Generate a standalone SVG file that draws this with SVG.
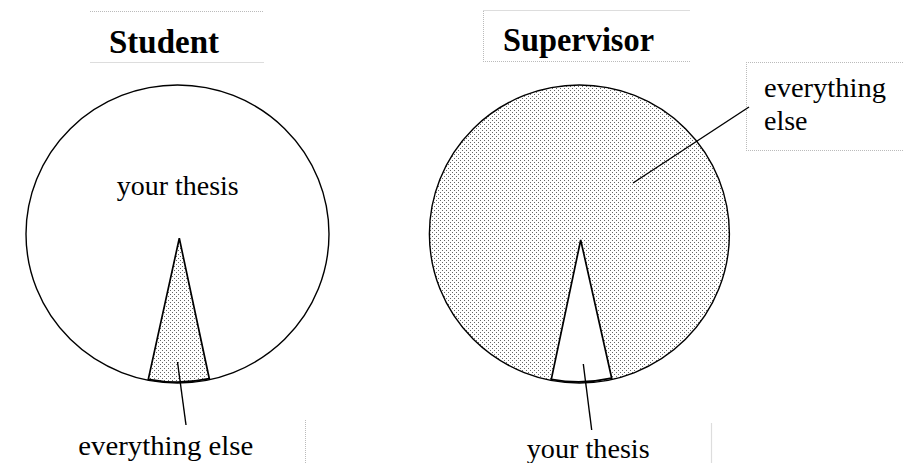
<svg xmlns="http://www.w3.org/2000/svg" width="904" height="463" viewBox="0 0 904 463">
  <style>
    .title { font-family: "Liberation Serif", "Times New Roman", serif; font-weight: bold; font-size: 34px; fill: #000; }
    .lbl { font-family: "Liberation Serif", "Times New Roman", serif; font-size: 28px; fill: #000; }
    .circ { stroke: #000; stroke-width: 1.4; }
    .wedge { stroke: #000; stroke-width: 1.7; stroke-linejoin: miter; }
    .conn { stroke: #000; stroke-width: 1.4; fill: none; }
    .dotted { stroke: #bbb; stroke-width: 1; stroke-dasharray: 1 1; fill: none; }
    .solid { stroke: #ddd; stroke-width: 1.2; fill: none; }
  </style>
  <defs>
    <pattern id="dots" width="4" height="4" patternUnits="userSpaceOnUse">
      <rect width="4" height="4" fill="#fff"/>
      <rect x="0" y="0" width="1" height="1" fill="#666"/>
      <rect x="2" y="2" width="1" height="1" fill="#666"/>
    </pattern>
  </defs>
  <rect width="904" height="463" fill="#fff"/>

  <g id="student-title">
    <line class="dotted" x1="90" y1="11.5" x2="264" y2="11.5"/>
    <line class="solid" x1="90" y1="62.5" x2="264" y2="62.5"/>
    <text class="title" x="109" y="52.5" textLength="110" lengthAdjust="spacingAndGlyphs">Student</text>
  </g>

  <g id="supervisor-title">
    <line class="solid" x1="483" y1="10.5" x2="690" y2="10.5"/>
    <line class="dotted" x1="483.5" y1="11" x2="483.5" y2="62"/>
    <line class="dotted" x1="483" y1="61.5" x2="690" y2="61.5"/>
    <text class="title" x="503" y="50.5" textLength="151" lengthAdjust="spacingAndGlyphs">Supervisor</text>
  </g>

  <g id="student-chart">
    <ellipse class="circ" cx="177.5" cy="234" rx="151.5" ry="149" fill="#fff"/>
    <path class="wedge" fill="url(#dots)" d="M179.3,238.3 L148.3,379.3 A151.5,149 0 0 0 209.3,378.7 Z"/>
    <text class="lbl" x="116.7" y="195" font-size="28" textLength="122" lengthAdjust="spacingAndGlyphs">your thesis</text>
  </g>

  <g id="supervisor-chart">
    <ellipse class="circ" cx="579.4" cy="234" rx="150" ry="149" fill="url(#dots)"/>
    <path class="wedge" fill="#fff" d="M580.7,240 L551.3,379.3 A150,149 0 0 0 611.7,378.2 Z"/>
  </g>

  <g id="label-student-else">
    <line class="dotted" x1="305.5" y1="420" x2="305.5" y2="463"/>
    <text class="lbl" x="78.3" y="455" font-size="29" textLength="175" lengthAdjust="spacingAndGlyphs">everything else</text>
  </g>

  <g id="label-supervisor-thesis">
    <line class="solid" x1="711.5" y1="423" x2="711.5" y2="463"/>
    <text class="lbl" x="526.7" y="458" font-size="28" textLength="123" lengthAdjust="spacingAndGlyphs">your thesis</text>
  </g>

  <g id="label-supervisor-else">
    <line class="dotted" x1="746.5" y1="62" x2="746.5" y2="151"/>
    <line class="dotted" x1="746" y1="62.5" x2="904" y2="62.5"/>
    <line class="dotted" x1="746" y1="150.5" x2="904" y2="150.5"/>
    <text class="lbl" x="764" y="97" textLength="122" lengthAdjust="spacingAndGlyphs">everything</text>
    <text class="lbl" x="764" y="130">else</text>
  </g>

  <g id="connectors">
    <line class="conn" x1="177.5" y1="362" x2="186" y2="425"/>
    <line class="conn" x1="583.3" y1="364" x2="591.7" y2="430"/>
    <line class="conn" x1="633" y1="183" x2="749" y2="107"/>
  </g>
</svg>
